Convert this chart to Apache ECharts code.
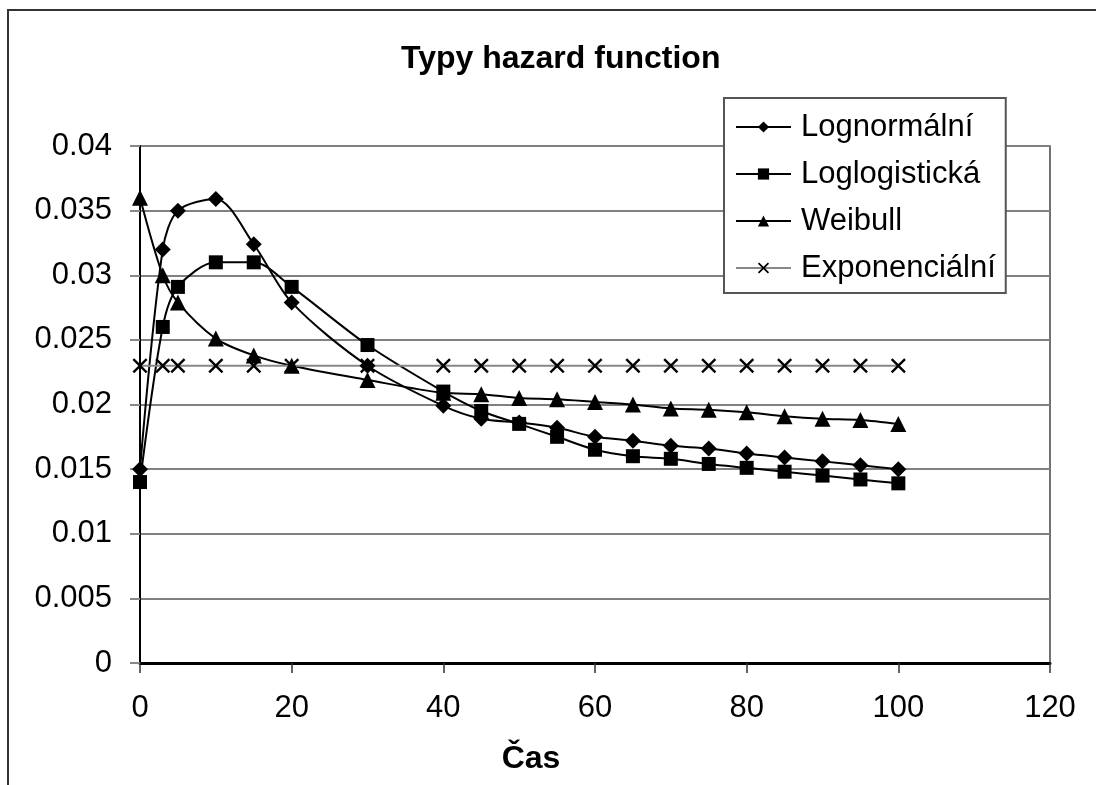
<!DOCTYPE html>
<html>
<head>
<meta charset="utf-8">
<title>Typy hazard function</title>
<script src="https://cdn.jsdelivr.net/npm/echarts@6/dist/echarts.min.js"></script>
<style>
  html, body { margin: 0; padding: 0; background: #fff; }
  #chart { width: 1096px; height: 785px; }
</style>
</head>
<body>
<div id="chart"></div>
<script>
// data
var casy = [0, 3, 5, 10, 15, 20, 30, 40, 45, 50, 55, 60, 65, 70, 75, 80, 85, 90, 95, 100]
var lognormalni = [0.015, 0.032, 0.035, 0.0359, 0.0324, 0.0279, 0.023, 0.0199, 0.0189, 0.0186, 0.0182,
    0.0175, 0.0172, 0.0168, 0.0166, 0.0162, 0.0159, 0.0156, 0.0153, 0.015]
var loglogisticka = [0.014, 0.026, 0.0291, 0.031, 0.031, 0.0291, 0.0246, 0.021, 0.0195, 0.0185, 0.0175,
    0.0165, 0.016, 0.0158, 0.0154, 0.0151, 0.0148, 0.0145, 0.0142, 0.0139]
var weibull = [0.036, 0.03, 0.0279, 0.0251, 0.0238, 0.023, 0.0219, 0.0209, 0.0208, 0.0205, 0.0204,
    0.0202, 0.02, 0.0197, 0.0196, 0.0194, 0.0191, 0.0189, 0.0188, 0.0185]
var exponencialni = [0.023, 0.023, 0.023, 0.023, 0.023, 0.023, 0.023, 0.023, 0.023, 0.023, 0.023,
    0.023, 0.023, 0.023, 0.023, 0.023, 0.023, 0.023, 0.023, 0.023]
var xTicks = [0, 20, 40, 60, 80, 100, 120]
var yTicks = [0, 0.005, 0.01, 0.015, 0.02, 0.025, 0.03, 0.035, 0.04]

var font = '"Liberation Sans", Arial, sans-serif'
// krizek (x) jako vyplneny tvar
var krizek = 'path://M0,1.1L1.1,0L5,3.9L8.9,0L10,1.1L6.1,5L10,8.9L8.9,10L5,6.1L1.1,10L0,8.9L3.9,5Z'

function pary(vals) {
    return casy.map(function (t, i) { return [t, vals[i]] })
}

function rada(name, vals, symbol, size, lineColor, smooth) {
    return {
        name: name,
        type: 'line',
        data: pary(vals),
        symbol: symbol,
        symbolSize: size,
        smooth: smooth,
        showAllSymbol: true,
        itemStyle: { color: '#000' },
        lineStyle: { color: lineColor, width: 2 },
        emphasis: { disabled: true }
    }
}

var chart = echarts.init(document.getElementById('chart'))
var option = {
    animation: false,
    backgroundColor: '#fff',
    title: {
        text: 'Typy hazard function',
        left: 396,
        top: 38,
        textStyle: { fontFamily: font, fontSize: 32, fontWeight: 'bold', color: '#000' }
    },
    graphic: [{
        type: 'rect',
        z: -10,
        shape: { x: 8, y: 10, width: 1200, height: 900 },
        style: { fill: 'none', stroke: '#333', lineWidth: 2 }
    }],
    legend: {
        orient: 'vertical',
        left: 724,
        top: 98,
        padding: [11, 10, 7, 11],
        itemWidth: 55,
        itemHeight: 14,
        itemGap: 11,
        backgroundColor: '#fff',
        borderColor: '#555',
        borderWidth: 2,
        borderRadius: 0,
        textStyle: { fontFamily: font, fontSize: 31, lineHeight: 36, color: '#000', padding: [0, 0, 0, 5] },
        data: ['Lognormální', 'Loglogistická', 'Weibull', 'Exponenciální']
    },
    grid: {
        left: 140,
        right: 46,
        top: 146,
        bottom: 122,
        show: true,
        borderColor: '#444',
        borderWidth: 1.5
    },
    xAxis: {
        type: 'value',
        min: xTicks[0],
        max: xTicks[xTicks.length - 1],
        interval: xTicks[1] - xTicks[0],
        name: 'Čas',
        nameLocation: 'middle',
        nameGap: 80,
        nameTextStyle: { fontFamily: font, fontSize: 32, fontWeight: 'bold', color: '#000', padding: [0, 128, 0, 0] },
        axisLine: { lineStyle: { color: '#000', width: 3 } },
        axisTick: { show: true, length: 10, lineStyle: { color: '#333', width: 1.5 } },
        axisLabel: { fontFamily: font, fontSize: 31, color: '#000', margin: 30 },
        splitLine: { show: false }
    },
    yAxis: {
        type: 'value',
        min: yTicks[0],
        max: yTicks[yTicks.length - 1],
        interval: yTicks[1] - yTicks[0],
        axisLine: { show: true, lineStyle: { color: '#000', width: 2 } },
        axisTick: { show: true, length: 10, lineStyle: { color: '#888', width: 2 } },
        axisLabel: { fontFamily: font, fontSize: 31, color: '#000', margin: 28 },
        splitLine: { show: true, lineStyle: { color: '#808080', width: 2 } }
    },
    series: [
        rada('Lognormální', lognormalni, 'diamond', 16, '#000', 0.3),
        rada('Loglogistická', loglogisticka, 'rect', 14, '#000', 0.3),
        rada('Weibull', weibull, 'triangle', 16, '#000', 0.3),
        rada('Exponenciální', exponencialni, krizek, 15, '#888', false)
    ]
}
chart.setOption(option)
</script>
</body>
</html>
